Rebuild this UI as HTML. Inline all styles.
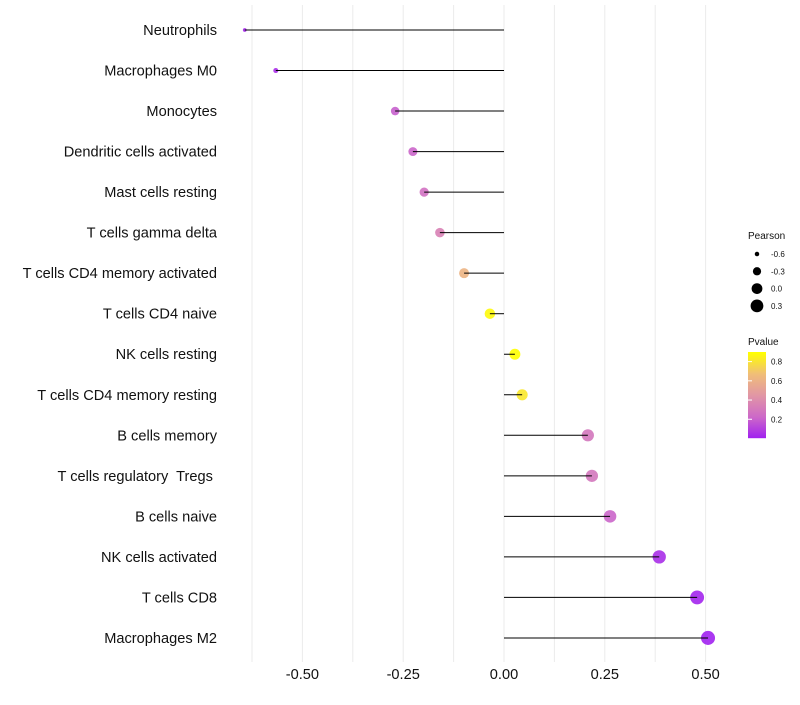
<!DOCTYPE html>
<html><head><meta charset="utf-8"><style>
body{margin:0;background:#fff;font-family:"Liberation Sans",sans-serif;}
text{white-space:pre;}
</style></head><body>
<svg id="chart" width="800" height="700" xmlns="http://www.w3.org/2000/svg">
<g id="grid"></g>
<g id="marks"></g>
<g id="ylabels"></g>
<g id="xlabels"></g>
<g id="legend"></g>
</svg>
<script>
const categories=["Neutrophils","Macrophages M0","Monocytes","Dendritic cells activated","Mast cells resting","T cells gamma delta","T cells CD4 memory activated","T cells CD4 naive","NK cells resting","T cells CD4 memory resting","B cells memory","T cells regulatory  Tregs ","B cells naive","NK cells activated","T cells CD8","Macrophages M2"];
const pearson=[-0.643,-0.566,-0.27,-0.226,-0.198,-0.159,-0.099,-0.035,0.027,0.045,0.208,0.218,0.263,0.385,0.479,0.506];
const pvalues=[0.03,0.05,0.2,0.22,0.27,0.35,0.62,0.88,0.9,0.82,0.3,0.3,0.22,0.05,0.02,0.01];
const xTicks=[-0.5,-0.25,0,0.25,0.5];
const xTickLabels=["-0.50","-0.25","0.00","0.25","0.50"];
const sizeLegend=[-0.6,-0.3,0.0,0.3];
const colorLegend=[0.2,0.4,0.6,0.8];
const NS="http://www.w3.org/2000/svg";
const X=v=>504+v*403.2;
const Y=i=>30+i*40.53;
const R=v=>Math.sqrt(Math.max(3.5,5+40*(v+0.6)));
function lerp(a,b,t){return a.map((x,i)=>Math.round(x+(b[i]-x)*t));}
function col(p){const t=Math.max(0,Math.min(1,(p-0.005)/0.895));
 const s=[[160,32,240],[205,105,200],[225,150,165],[240,190,120],[255,255,0]];
 const k=Math.min(3,Math.floor(t*4));const c=lerp(s[k],s[k+1],t*4-k);return `rgb(${c})`;}
function mk(tag,attrs,parent,text){const e=document.createElementNS(NS,tag);for(const k in attrs)e.setAttribute(k,attrs[k]);if(text!==undefined)e.textContent=text;document.getElementById(parent).appendChild(e);return e;}
for(let v=-0.625;v<=0.5001;v+=0.125){const l=mk('line',{x1:X(v),x2:X(v),y1:5,y2:662,stroke:'#ebebeb','stroke-width':1},'grid');

}
categories.forEach((c,i)=>{
 const dot=mk('circle',{cx:X(pearson[i]),cy:Y(i),r:R(pearson[i]),fill:col(pvalues[i]),'fill-opacity':0.9},'marks');
 
 
 const seg=mk('line',{x1:X(0),x2:X(pearson[i]),y1:Y(i),y2:Y(i),stroke:'#000','stroke-width':1},'marks');
 
 
 const t=mk('text',{x:217,y:Y(i)+5,'text-anchor':'end','font-size':14.6,fill:'#111'},'ylabels',c);
 
 
});
xTicks.forEach((v,i)=>{const t=mk('text',{x:X(v),y:679,'text-anchor':'middle','font-size':14.6,fill:'#111'},'xlabels',xTickLabels[i]);

});
const pt=mk('text',{x:748,y:239,'font-size':10,fill:'#111'},'legend','Pearson');


sizeLegend.forEach((v,i)=>{const c=mk('circle',{cx:757,cy:254+i*17.3,r:R(v),fill:'#000'},'legend');


const t=mk('text',{x:771,y:257+i*17.3,'font-size':8,fill:'#111'},'legend',v.toFixed(1));

});
const ct=mk('text',{x:748,y:345,'font-size':10,fill:'#111'},'legend','Pvalue');


for(let y=352;y<438;y++){const p=0.005+(438-y)/86*0.895;const r=mk('rect',{x:748,y:y,width:18,height:1.2,fill:col(p)},'legend');

}
colorLegend.forEach(v=>{const y=438-(v-0.005)/0.895*86;
const tl=mk('line',{x1:748,x2:752,y1:y,y2:y,stroke:'#fff'},'legend');


const t=mk('text',{x:771,y:y+3,'font-size':8,fill:'#111'},'legend',v.toFixed(1));

});
</script>
</body></html>
